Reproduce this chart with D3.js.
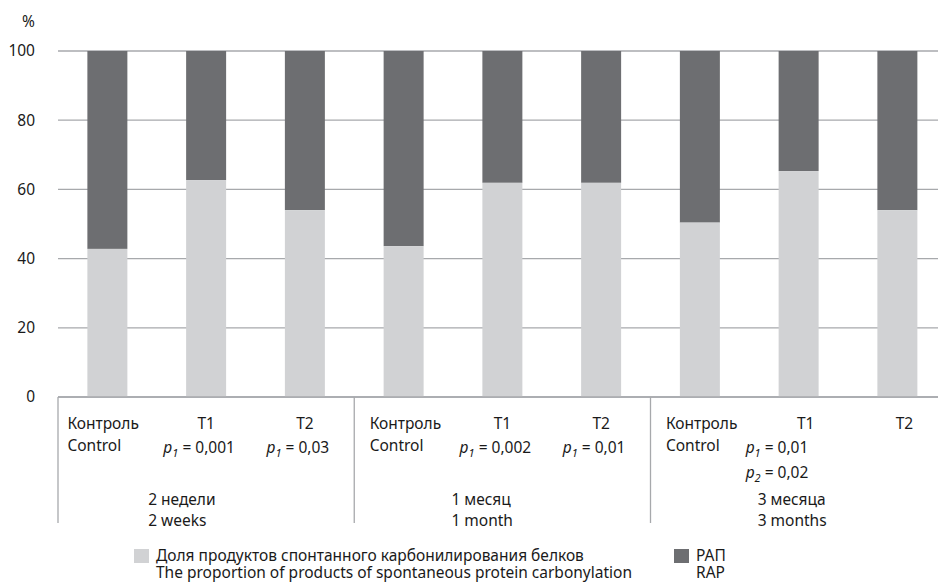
<!DOCTYPE html>
<html>
<head>
<meta charset="utf-8">
<script src="https://cdn.jsdelivr.net/npm/d3@7"></script>
<style>
  body { margin: 0; background: #fff; }
  text { font-family: "Noto Sans", sans-serif; fill: #1a1a1a; }
</style>
</head>
<body>
<svg id="chart"></svg>
<script>
// data
const bars = ["c1", "t1a", "t2a", "c2", "t1b", "t2b", "c3", "t1c", "t2c"];
const carbonylation = [42.8, 62.7, 54.0, 43.6, 61.9, 61.9, 50.4, 65.3, 54.0];
const yTicks = [0, 20, 40, 60, 80, 100];
const groupLabels = [["2 недели", "2 weeks"], ["1 месяц", "1 month"], ["3 месяца", "3 months"]];
const pLabels = [null, [["1", "0,001"]], [["1", "0,03"]], null, [["1", "0,002"]], [["1", "0,01"]], null, [["1", "0,01"], ["2", "0,02"]], null];
const legendLabels = [
    ["Доля продуктов спонтанного карбонилирования белков", "The proportion of products of spontaneous protein carbonylation"],
    ["РАП", "RAP"]
];

const width = 938, height = 584;
const margin = { top: 51, left: 58 };
const plotH = 346;
const step = 98.75;

const svg = d3.select("#chart")
    .attr("width", width)
    .attr("height", height);

const x = d3.scaleBand()
    .domain(bars)
    .range([margin.left, margin.left + step * bars.length])
    .paddingInner(0.595)
    .paddingOuter(0.2975);

const y = d3.scaleLinear()
    .domain([0, 100])
    .range([margin.top + plotH, margin.top]);

const light = "#d1d2d4", dark = "#6d6e71", grid = "#a7a9ac";
const fs = "15.5px";

// gridlines
svg.append("g")
    .selectAll("line")
    .data(yTicks)
    .join("line")
    .attr("x1", margin.left)
    .attr("x2", width)
    .attr("y1", d => y(d))
    .attr("y2", d => y(d))
    .attr("stroke", grid)
    .attr("stroke-width", 1.3);

// y tick labels
svg.append("g")
    .selectAll("text")
    .data(yTicks)
    .join("text")
    .attr("x", 35)
    .attr("y", d => y(d))
    .attr("dy", "0.35em")
    .attr("text-anchor", "end")
    .style("font-size", fs)
    .text(d => d);

svg.append("text")
    .attr("x", 35)
    .attr("y", 22)
    .attr("dy", "0.35em")
    .attr("text-anchor", "end")
    .style("font-size", fs)
    .text("%");

// stacked bars: dark (RAP) fills to 100, light on bottom
svg.append("g")
    .selectAll("rect")
    .data(bars)
    .join("rect")
    .attr("x", d => x(d))
    .attr("width", x.bandwidth())
    .attr("y", y(100))
    .attr("height", (d, i) => y(carbonylation[i]) - y(100))
    .attr("fill", dark);

svg.append("g")
    .selectAll("rect")
    .data(bars)
    .join("rect")
    .attr("x", d => x(d))
    .attr("width", x.bandwidth())
    .attr("y", (d, i) => y(carbonylation[i]))
    .attr("height", (d, i) => y(0) - y(carbonylation[i]))
    .attr("fill", light);

// baseline
svg.append("line")
    .attr("x1", margin.left)
    .attr("x2", width)
    .attr("y1", y(0))
    .attr("y2", y(0))
    .attr("stroke", grid)
    .attr("stroke-width", 1.3);

// group separators
const sepX = [0, 3, 6, 9].map(i => margin.left + i * step);
svg.append("g")
    .selectAll("line")
    .data(sepX)
    .join("line")
    .attr("x1", d => d)
    .attr("x2", d => d)
    .attr("y1", y(0))
    .attr("y2", 523)
    .attr("stroke", grid)
    .attr("stroke-width", 1.3);

// category labels
const cx = d => x(d) + x.bandwidth() / 2;
bars.forEach((b, i) => {
    if (i % 3 === 0) {
        const tx = x(b) - (i === 0 ? 20 : 14);
        svg.append("text").attr("x", tx).attr("y", 429).style("font-size", fs).text("Контроль");
        svg.append("text").attr("x", tx).attr("y", 451).style("font-size", fs).text("Control");
    } else {
        const shift = i >= 6 ? 7 : 0;
        svg.append("text").attr("x", cx(b) + shift).attr("y", 429)
            .attr("text-anchor", "middle").style("font-size", fs)
            .text(i % 3 === 1 ? "T1" : "T2");
    }
    const ps = pLabels[i];
    if (ps) {
        ps.forEach((p, k) => {
            const t = svg.append("text")
                .attr("y", 453 + k * 25)
                .style("font-size", fs);
            if (ps.length > 1) t.attr("x", cx(b) - 53);
            else t.attr("x", cx(b) - 7).attr("text-anchor", "middle");
            t.append("tspan").style("font-style", "italic").text("p");
            t.append("tspan").attr("dy", 4).style("font-style", "italic").style("font-size", "11px").text(p[0]);
            t.append("tspan").attr("dy", -4).text(" = " + p[1]);
        });
    }
});

// group labels
const groupDx = [-38, -31, -21];
groupLabels.forEach((g, gi) => {
    const gx = x(bars[gi * 3 + 1]) + groupDx[gi];
    svg.append("text").attr("x", gx).attr("y", 505).style("font-size", fs).text(g[0]);
    svg.append("text").attr("x", gx).attr("y", 526).style("font-size", fs).text(g[1]);
});

// legend
const legendX = [134, 674];
const legendCol = [light, dark];
legendLabels.forEach((l, i) => {
    svg.append("rect")
        .attr("x", legendX[i]).attr("y", 549)
        .attr("width", 15).attr("height", 14)
        .attr("fill", legendCol[i]);
    svg.append("text").attr("x", legendX[i] + 22).attr("y", 561).style("font-size", fs).text(l[0]);
    svg.append("text").attr("x", legendX[i] + 22).attr("y", 578).style("font-size", fs).text(l[1]);
});
</script>
</body>
</html>
